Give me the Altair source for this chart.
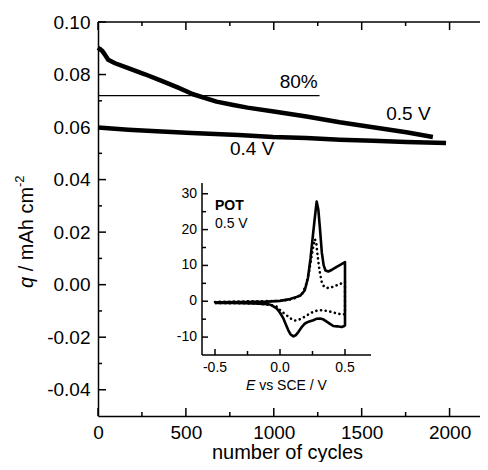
import altair as alt
import pandas as pd

FONT = "Liberation Sans"

# ---- main data ----
cyc_05 = [0, 24, 40, 58, 97, 172, 267, 362, 456, 541, 674, 770, 850, 1000, 1186, 1375, 1564, 1754, 1905]
q_05 = [0.0902, 0.0890, 0.0875, 0.0856, 0.0843, 0.0824, 0.0801, 0.0776, 0.0750, 0.0725, 0.0697,
        0.0684, 0.0674, 0.0659, 0.0640, 0.0618, 0.0599, 0.0580, 0.0562]
cyc_04 = [0, 172, 362, 532, 800, 996, 1186, 1375, 1564, 1754, 1980]
q_04 = [0.0598, 0.0590, 0.0583, 0.0577, 0.0570, 0.0562, 0.0558, 0.0552, 0.0548, 0.0543, 0.0539]

ref_q = 0.072
ref_start = 0
ref_end = 1260

ann_text = ["80%", "0.5 V", "0.4 V"]
ann_cyc = [1142, 1766, 877]
ann_q = [0.0749, 0.0628, 0.0495]

x_major = [0, 500, 1000, 1500, 2000]
x_minor = [250, 750, 1250, 1750]
y_major = [-0.04, -0.02, 0.0, 0.02, 0.04, 0.06, 0.08, 0.10]
y_minor = [-0.03, -0.01, 0.01, 0.03, 0.05, 0.07, 0.09]

# ---- inset data (cyclic voltammograms) ----
E_solid = [-0.5, -0.3, -0.1, 0.0, 0.077, 0.154, 0.19, 0.215, 0.235, 0.255, 0.27, 0.282, 0.295, 0.308,
           0.322, 0.336, 0.35, 0.372, 0.40, 0.436, 0.47, 0.5,
           0.5, 0.495, 0.474, 0.44, 0.41, 0.385, 0.359, 0.33, 0.308, 0.28, 0.256, 0.22, 0.192, 0.165,
           0.141, 0.12, 0.103, 0.08, 0.064, 0.045, 0.026, 0.0, -0.026, -0.06, -0.09, -0.2, -0.35, -0.5]
I_solid = [-0.3, -0.25, -0.1, 0.1, 0.6, 1.5, 3.0, 6.5, 12.0, 19.0, 24.0, 27.8, 25.5, 20.0,
           13.5, 10.0, 8.6, 8.3, 8.8, 9.6, 10.3, 10.9,
           -6.7, -6.9, -7.2, -7.0, -6.9, -6.3, -5.7, -5.0, -4.8, -4.9, -5.3, -5.7, -6.2, -7.3,
           -8.6, -9.5, -9.8, -9.2, -8.1, -6.5, -4.8, -3.2, -2.0, -1.2, -0.8, -0.6, -0.5, -0.5]

E_dot = [-0.5, 0.0, 0.1, 0.17, 0.2, 0.225, 0.245, 0.26, 0.269, 0.28, 0.287, 0.295, 0.303, 0.312,
         0.32, 0.335, 0.359, 0.39, 0.423, 0.45, 0.482, 0.5,
         0.5, 0.48, 0.436, 0.40, 0.359, 0.32, 0.295, 0.26, 0.231, 0.2, 0.167, 0.14, 0.115, 0.09,
         0.064, 0.04, 0.013, -0.026, -0.077, -0.2, -0.5]
I_dot = [-0.2, 0.1, 0.6, 2.0, 4.5, 8.5, 13.0, 16.0, 17.3, 16.0, 13.5, 11.0, 8.8, 7.0,
         5.5, 4.3, 3.7, 3.8, 4.3, 4.6, 5.2, 5.4,
         -3.6, -3.7, -3.4, -3.0, -2.7, -2.5, -2.5, -2.9, -3.4, -4.1, -4.8, -5.2, -5.4, -5.0,
         -4.3, -3.6, -2.9, -1.5, -1.0, -0.6, -0.5]

in_x_major = [-0.5, 0.0, 0.5]
in_x_labels = ["-0.5", "0.0", "0.5"]
in_x_minor = [-0.25, 0.25]
in_y_major = [30, 20, 10, 0, -10]
in_y_labels = ["30", "20", "10", "0", "-10"]
in_y_minor = [25, 15, 5, -5]

in_text = ["POT", "0.5 V"]
in_text_E = [-0.5, -0.5]
in_text_I = [25.5, 20.4]
in_text_weight = ["bold", "normal"]

# ---- geometry ----
W, H = 382, 394
XR = 392  # x range end (beyond the visible width, like the cropped original)

xs = alt.Scale(domain=[0, 2230], range=[0, XR], nice=False, zero=False)
ys = alt.Scale(domain=[-0.05, 0.10], nice=False, zero=False)

ax_x = alt.Axis(title=None, ticks=False, tickSize=0, grid=False, values=x_major, format="d",
                labelFont=FONT, labelFontSize=19, labelColor="black", labelPadding=7,
                labelFlush=False, labelOverlap=False,
                domainColor="black", domainWidth=1.5)
ax_y = alt.Axis(title=None, ticks=False, tickSize=0, grid=False, values=y_major,
                labelExpr="datum.value < -0.0001 ? '-' + format(-datum.value, '.2f') : format(abs(datum.value), '.2f')",
                labelFont=FONT, labelFontSize=19, labelColor="black", labelPadding=8,
                labelFlush=False, labelOverlap=False,
                domainColor="black", domainWidth=1.5)


def X(field="cycles"):
    return alt.X(f"{field}:Q", scale=xs, axis=ax_x)


def Y(field="q"):
    return alt.Y(f"{field}:Q", scale=ys, axis=ax_y)


df_series = pd.concat([
    pd.DataFrame({"cycles": cyc_05, "q": q_05, "series": "0.5 V"}),
    pd.DataFrame({"cycles": cyc_04, "q": q_04, "series": "0.4 V"}),
])

lines = alt.Chart(df_series).mark_line(color="black", strokeWidth=4.5, strokeJoin="round").encode(
    x=X(), y=Y(), detail="series:N")

ref_df = pd.DataFrame({"cycles": [ref_start], "cycles2": [ref_end], "q": [ref_q]})
ref_rule = alt.Chart(ref_df).mark_rule(color="black", strokeWidth=1.2).encode(
    x=X(), x2="cycles2:Q", y=Y())

ann_df = pd.DataFrame({"cycles": ann_cyc, "q": ann_q, "t": ann_text})
ann = alt.Chart(ann_df).mark_text(font=FONT, fontSize=19, color="black", align="center",
                                  baseline="alphabetic").encode(x=X(), y=Y(), text="t:N")

xmaj = pd.DataFrame({"cycles": x_major})
xmin = pd.DataFrame({"cycles": x_minor})
ymaj = pd.DataFrame({"q": y_major})
ymin = pd.DataFrame({"q": y_minor})

tk = dict(color="black", strokeWidth=1.5)
ticks = [
    alt.Chart(xmaj).mark_rule(**tk).encode(x=X(), y=alt.value(H), y2=alt.value(H - 8)),
    alt.Chart(xmin).mark_rule(**tk).encode(x=X(), y=alt.value(H), y2=alt.value(H - 4)),
    alt.Chart(xmaj).mark_rule(**tk).encode(x=X(), y=alt.value(0), y2=alt.value(8)),
    alt.Chart(xmin).mark_rule(**tk).encode(x=X(), y=alt.value(0), y2=alt.value(4)),
    alt.Chart(ymaj).mark_rule(**tk).encode(y=Y(), x=alt.value(0), x2=alt.value(8)),
    alt.Chart(ymin).mark_rule(**tk).encode(y=Y(), x=alt.value(0), x2=alt.value(4)),
    alt.Chart(ymaj).mark_rule(**tk).encode(y=Y(), x=alt.value(XR), x2=alt.value(XR - 8)),
    alt.Chart(ymin).mark_rule(**tk).encode(y=Y(), x=alt.value(XR), x2=alt.value(XR - 4)),
    alt.Chart(pd.DataFrame({"k": [0]})).mark_rule(**tk).encode(
        x=alt.value(0), x2=alt.value(XR), y=alt.value(0)),
]

# axis titles
xt = alt.Chart(pd.DataFrame({"t": ["number of cycles"]})).mark_text(
    font=FONT, fontSize=20, color="black", align="center", baseline="alphabetic").encode(
    text="t:N", x=alt.value(189.5), y=alt.value(437))
yt1 = alt.Chart(pd.DataFrame({"t": ["q"]})).mark_text(
    font=FONT, fontSize=20, fontStyle="italic", color="black", align="left", baseline="alphabetic",
    angle=270).encode(text="t:N", x=alt.value(-65), y=alt.value(266))
yt2 = alt.Chart(pd.DataFrame({"t": ["/ mAh cm"]})).mark_text(
    font=FONT, fontSize=20, color="black", align="left", baseline="alphabetic",
    angle=270).encode(text="t:N", x=alt.value(-65), y=alt.value(249.3))
yt3 = alt.Chart(pd.DataFrame({"t": ["-2"]})).mark_text(
    font=FONT, fontSize=13, color="black", align="left", baseline="alphabetic",
    angle=270).encode(text="t:N", x=alt.value(-74), y=alt.value(165))

main = alt.layer(lines, ref_rule, ann, *ticks, xt, yt1, yt2, yt3)

# ---- inset ----
xi = alt.Scale(domain=[-0.6, 0.7], range=[104, 273], nice=False, zero=False)
yi = alt.Scale(domain=[-15, 33], range=[333, 161], nice=False, zero=False)


def XI(field="E"):
    return alt.X(f"{field}:Q", scale=xi, axis=None)


def YI(field="I"):
    return alt.Y(f"{field}:Q", scale=yi, axis=None)


solid_df = pd.DataFrame({"E": E_solid, "I": I_solid, "k": range(len(E_solid))})
dot_df = pd.DataFrame({"E": E_dot, "I": I_dot, "k": range(len(E_dot))})

cv_solid = alt.Chart(solid_df).mark_line(color="black", strokeWidth=2.6, strokeJoin="round").encode(
    x=XI(), y=YI(), order="k:Q")
cv_dot = alt.Chart(dot_df).mark_line(color="black", strokeWidth=2.6, strokeDash=[0.1, 4.6],
                                     strokeCap="round").encode(x=XI(), y=YI(), order="k:Q")

frame_df = pd.DataFrame({"E": [-0.6], "E2": [0.7], "I": [-15], "I2": [33]})
in_axes = [
    alt.Chart(frame_df).mark_rule(**tk).encode(x=XI(), y=YI(), y2="I2:Q"),
    alt.Chart(frame_df).mark_rule(**tk).encode(x=XI(), x2="E2:Q", y=YI()),
]
ixmaj = pd.DataFrame({"E": in_x_major, "t": in_x_labels})
ixmin = pd.DataFrame({"E": in_x_minor})
iymaj = pd.DataFrame({"I": in_y_major, "t": in_y_labels})
iymin = pd.DataFrame({"I": in_y_minor})
in_ticks = [
    alt.Chart(ixmaj).mark_rule(**tk).encode(x=XI(), y=alt.value(333), y2=alt.value(327)),
    alt.Chart(ixmin).mark_rule(**tk).encode(x=XI(), y=alt.value(333), y2=alt.value(329)),
    alt.Chart(iymaj).mark_rule(**tk).encode(y=YI(), x=alt.value(104), x2=alt.value(110)),
    alt.Chart(iymin).mark_rule(**tk).encode(y=YI(), x=alt.value(104), x2=alt.value(108)),
]
in_labels = [
    alt.Chart(ixmaj).mark_text(font=FONT, fontSize=14, color="black", align="center",
                               baseline="alphabetic").encode(x=XI(), y=alt.value(350), text="t:N"),
    alt.Chart(iymaj).mark_text(font=FONT, fontSize=14, color="black", align="right",
                               baseline="middle").encode(y=YI(), x=alt.value(99), text="t:N"),
]
in_title = [
    alt.Chart(pd.DataFrame({"t": ["E"]})).mark_text(
        font=FONT, fontSize=14, fontStyle="italic", color="black", align="left",
        baseline="alphabetic").encode(text="t:N", x=alt.value(148), y=alt.value(368)),
    alt.Chart(pd.DataFrame({"t": ["vs SCE / V"]})).mark_text(
        font=FONT, fontSize=14, color="black", align="left",
        baseline="alphabetic").encode(text="t:N", x=alt.value(161.2), y=alt.value(368)),
]
tx_df = pd.DataFrame({"E": in_text_E, "I": in_text_I, "t": in_text, "w": in_text_weight})
in_txt = [
    alt.Chart(tx_df[tx_df.w == "bold"]).mark_text(
        font=FONT, fontSize=14, fontWeight="bold", color="black", align="left",
        baseline="alphabetic").encode(x=XI(), y=YI(), text="t:N"),
    alt.Chart(tx_df[tx_df.w == "normal"]).mark_text(
        font=FONT, fontSize=14, color="black", align="left",
        baseline="alphabetic").encode(x=XI(), y=YI(), text="t:N"),
]

inset = alt.layer(cv_solid, cv_dot, *in_axes, *in_ticks, *in_labels, *in_title, *in_txt)

chart = alt.layer(main, inset).resolve_scale(x="independent", y="independent").properties(
    width=W, height=H,
    autosize=alt.AutoSizeParams(type="none"),
    padding={"left": 90, "top": 14, "right": 0, "bottom": 46},
    background="white",
).configure_view(stroke=None)

chart.save("out.html", embed_options={"renderer": "svg", "actions": False})
